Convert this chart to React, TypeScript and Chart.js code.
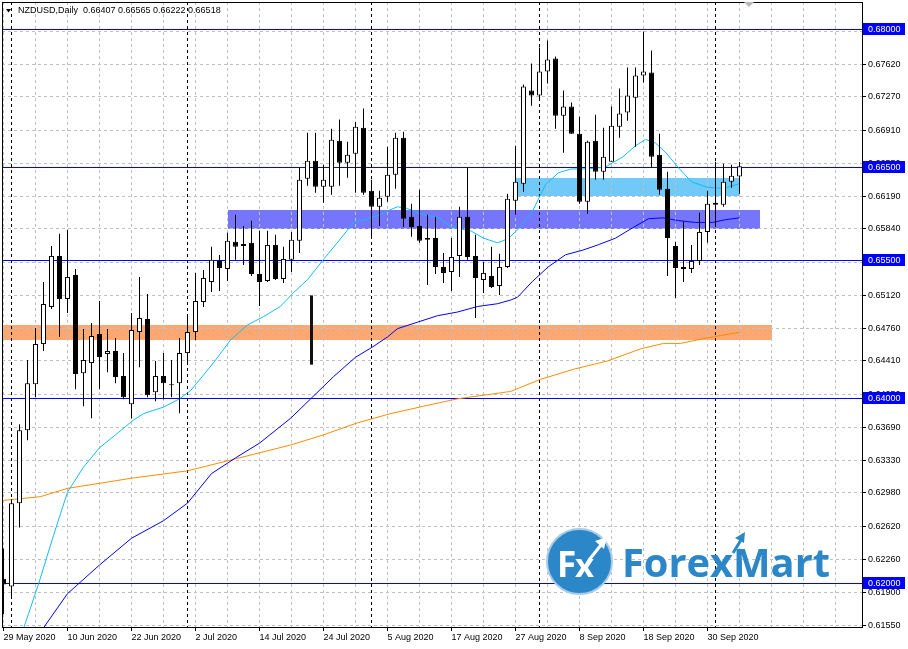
import React, { useEffect, useRef } from 'react';
import { Chart, registerables } from 'chart.js';

Chart.register(...registerables);

// ---------- data ----------
const symbolName = 'NZDUSD,Daily';

const openPrices = [
  0.6205, 0.61967, 0.62868, 0.6366, 0.64159, 0.64593, 0.64995, 0.65548, 0.65081, 0.65342,
  0.64278, 0.64387, 0.64702, 0.64485, 0.64517, 0.64246, 0.63942, 0.64723, 0.64864, 0.64072,
  0.64246, 0.64159, 0.6417, 0.64495, 0.64723, 0.65049, 0.65266, 0.65494, 0.65407, 0.657,
  0.65656, 0.65689, 0.65353, 0.65277, 0.65667, 0.65298, 0.65505, 0.65711, 0.66383, 0.66579,
  0.66297, 0.66297, 0.66796, 0.66557, 0.66655, 0.66937, 0.66253, 0.66079, 0.66188, 0.66427,
  0.66828, 0.65971, 0.65873, 0.65722, 0.65743, 0.65429, 0.65374, 0.65548, 0.65971, 0.65548,
  0.65288, 0.65331, 0.65222, 0.65429, 0.66145, 0.66329, 0.67338, 0.67284, 0.67544, 0.67685,
  0.67067, 0.67165, 0.66872, 0.66134, 0.66796, 0.66459, 0.66568, 0.66948, 0.671, 0.67262,
  0.67501, 0.67533, 0.66644, 0.66275, 0.65656, 0.65429, 0.65407, 0.65494, 0.65808, 0.66123,
  0.66101, 0.66351, 0.66407,
];
const highPrices = [
  0.6238, 0.62911, 0.63725, 0.6442, 0.64767, 0.65266, 0.65656, 0.65787, 0.6583, 0.65407,
  0.64756, 0.64821, 0.6506, 0.64756, 0.64658, 0.64495, 0.64929, 0.6532, 0.65136, 0.64409,
  0.64495, 0.6442, 0.64658, 0.64919, 0.65363, 0.65396, 0.65646, 0.65559, 0.65798, 0.65993,
  0.65873, 0.65928, 0.65819, 0.65819, 0.65776, 0.65646, 0.65808, 0.66503, 0.66882, 0.66882,
  0.66535, 0.66926, 0.67024, 0.66785, 0.67002, 0.67143, 0.66373, 0.66253, 0.66731, 0.66882,
  0.66893, 0.66112, 0.66264, 0.65993, 0.65971, 0.6558, 0.65743, 0.66079, 0.66503, 0.65776,
  0.65483, 0.65646, 0.6557, 0.66221, 0.66741, 0.67403, 0.67631, 0.67805, 0.67881, 0.67707,
  0.67338, 0.67208, 0.67056, 0.66796, 0.67078, 0.66937, 0.67165, 0.6736, 0.67588, 0.67588,
  0.67978, 0.67772, 0.66872, 0.66459, 0.657, 0.65917, 0.65667, 0.66014, 0.66253, 0.66568,
  0.66546, 0.66535, 0.66565,
];
const lowPrices = [
  0.6167, 0.61837, 0.62607, 0.63552, 0.64018, 0.64517, 0.64973, 0.64669, 0.64929, 0.64105,
  0.6392, 0.6379, 0.64105, 0.64289, 0.6417, 0.63996, 0.6379, 0.64343, 0.64018, 0.63975,
  0.63996, 0.64018, 0.63844, 0.64376, 0.64636, 0.64995, 0.65157, 0.65168, 0.65277, 0.65505,
  0.6545, 0.65331, 0.65005, 0.65266, 0.65288, 0.65255, 0.65374, 0.6558, 0.66307, 0.66231,
  0.66123, 0.6621, 0.66307, 0.66394, 0.66231, 0.6621, 0.65743, 0.65873, 0.66134, 0.66275,
  0.65862, 0.65754, 0.65689, 0.65233, 0.65353, 0.65255, 0.65168, 0.6532, 0.65505, 0.64875,
  0.65146, 0.65201, 0.65125, 0.65418, 0.65993, 0.66242, 0.67175, 0.6723, 0.67414, 0.66926,
  0.66665, 0.66872, 0.66112, 0.66004, 0.66373, 0.66373, 0.66568, 0.66828, 0.67013, 0.66731,
  0.67425, 0.66503, 0.6621, 0.65331, 0.65092, 0.65266, 0.65364, 0.6545, 0.65689, 0.65884,
  0.66079, 0.66286, 0.66222,
];
const closePrices = [
  0.6199, 0.62868, 0.6366, 0.6417, 0.64593, 0.65027, 0.65548, 0.65081, 0.6532, 0.64268,
  0.6442, 0.6468, 0.64452, 0.64517, 0.64235, 0.64018, 0.64745, 0.64875, 0.6404, 0.64246,
  0.6417, 0.64148, 0.64495, 0.64723, 0.6506, 0.65309, 0.65505, 0.65418, 0.65711, 0.65646,
  0.65678, 0.65353, 0.65266, 0.65667, 0.65298, 0.65515, 0.65722, 0.66373, 0.66579, 0.66297,
  0.66373, 0.66807, 0.66557, 0.66644, 0.66948, 0.66231, 0.66079, 0.66177, 0.66427, 0.66828,
  0.65949, 0.65862, 0.65711, 0.65743, 0.65429, 0.65364, 0.65537, 0.65971, 0.65537, 0.65309,
  0.65364, 0.65212, 0.65429, 0.66166, 0.66351, 0.67382, 0.67284, 0.67544, 0.67675, 0.67067,
  0.67165, 0.66872, 0.66134, 0.66785, 0.66459, 0.66622, 0.66958, 0.67089, 0.67284, 0.67501,
  0.67544, 0.66622, 0.66264, 0.65743, 0.65418, 0.65407, 0.65494, 0.65808, 0.66112, 0.66101,
  0.66351, 0.66416, 0.66518,
];

// date labels, one every 8 bars starting at bar 0
const dateLabels = [
  '29 May 2020', '10 Jun 2020', '22 Jun 2020', '2 Jul 2020', '14 Jul 2020', '24 Jul 2020',
  '5 Aug 2020', '17 Aug 2020', '27 Aug 2020', '8 Sep 2020', '18 Sep 2020', '30 Sep 2020',
];
const labelStep = 8;
const gridBars = [0, 4, 8, 12, 16, 20, 24, 28, 32, 36, 40, 44, 48, 52, 56, 60, 64, 68, 72, 76, 80, 84, 88, 92, 96, 100, 104];

const priceTicks = [
  0.6798, 0.6762, 0.6727, 0.6691, 0.6655, 0.6619, 0.6584, 0.6548, 0.6512, 0.6476,
  0.6441, 0.6405, 0.6369, 0.6333, 0.6298, 0.6262, 0.6226, 0.619, 0.6155,
];

const levelLines = [0.68, 0.665, 0.655, 0.64, 0.62];
const monthStarts = [1, 23, 46, 67, 89];

const zoneFrom = [-5, 28.1, 64.0];
const zoneTo = [96, 94.5, 92];
const zoneLow = [0.64636, 0.65841, 0.66199];
const zoneHigh = [0.64799, 0.66047, 0.66394];
const zoneColors = ['#FDA873', '#7676FC', '#70C9F7'];

// moving averages: [bar, price]
const maFast = [
  [2, 0.6138], [2.5, 0.6151], [4.4, 0.62], [6.25, 0.6252], [8, 0.6299], [10, 0.6326], [12, 0.6347],
  [14, 0.6361], [16.25, 0.6377], [17.5, 0.6384], [20, 0.6391], [22, 0.64], [23.4, 0.6409],
  [26.25, 0.6439], [28.4, 0.6464], [30.5, 0.648], [32.5, 0.6489], [34.6, 0.65], [36.25, 0.6515],
  [38, 0.6529], [40, 0.6551], [42, 0.6572], [43.75, 0.6591], [45.5, 0.6595], [47, 0.6599],
  [48.4, 0.6605], [49.25, 0.6608], [50.5, 0.6606], [52.5, 0.6599], [54.25, 0.6597], [56, 0.6586],
  [58.4, 0.6582], [60, 0.6574], [61.75, 0.6569], [63, 0.6573], [64.25, 0.6583], [66, 0.6601],
  [67.75, 0.6632], [69.4, 0.6645], [71, 0.6649], [73, 0.6649], [75.25, 0.6651], [77.4, 0.6662],
  [79, 0.6674], [80.25, 0.6681], [81.5, 0.6677], [82.75, 0.6667], [84.4, 0.665], [86, 0.6635],
  [88, 0.6629], [90, 0.6628], [92, 0.6633],
];
const maMid = [
  [4, 0.614], [5, 0.6152], [8, 0.6189], [12, 0.622], [16, 0.6249], [20, 0.6268], [23, 0.6287],
  [26, 0.6319], [29, 0.6336], [32, 0.6352], [35.9, 0.6379], [38.4, 0.64], [41.25, 0.6424],
  [44, 0.6445], [46.1, 0.6456], [48, 0.6467], [49.25, 0.6476], [51.75, 0.6483], [54.25, 0.649],
  [56.75, 0.6494], [59.25, 0.65], [61.75, 0.6503], [63.4, 0.6507], [64.25, 0.651], [66.1, 0.6527],
  [68.1, 0.6543], [70.25, 0.6556], [72.4, 0.6561], [74.4, 0.6567], [76.5, 0.6574], [78.6, 0.6585],
  [80.6, 0.6595], [82.4, 0.6596], [84.4, 0.6593], [86.5, 0.6591], [88.6, 0.6591], [90.25, 0.6594],
  [92, 0.6596],
];
const maSlow = [
  [-1, 0.6289], [0, 0.629], [4.6, 0.6294], [8, 0.6303], [16, 0.6314], [23, 0.6322], [29, 0.6335],
  [35.9, 0.635], [40, 0.6361], [44.25, 0.6374], [48.4, 0.6384], [52.5, 0.6392], [56.75, 0.64],
  [60.9, 0.6405], [63.4, 0.6408], [67.1, 0.6421], [71.25, 0.6432], [75.5, 0.6441], [79.6, 0.6454],
  [82.5, 0.646], [84.6, 0.646], [88, 0.6466], [92, 0.6472],
];

// a stray drawn vertical segment on the chart
const strayBar = [38.5];
const strayLow = [0.6437];
const strayHigh = [0.6512];

// view window
const X_MIN = -0.1875;
const X_MAX = 107.3125;
const Y_MIN = 0.615287;
const Y_MAX = 0.682978;

const FONT = '"Liberation Sans", Arial, sans-serif';

const mt4Plugin = {
  id: 'mt4Extras',
  beforeDraw(chart: any) {
    const { ctx, chartArea: a, scales } = chart;
    const x = scales.x;
    const y = scales.y;
    ctx.save();
    ctx.beginPath();
    ctx.rect(a.left, a.top, a.right - a.left, a.bottom - a.top);
    ctx.clip();
    for (let i = 0; i < zoneColors.length; i++) {
      const x1 = Math.round(x.getPixelForValue(zoneFrom[i]));
      const x2 = Math.round(x.getPixelForValue(zoneTo[i]));
      const y1 = Math.round(y.getPixelForValue(zoneHigh[i]));
      const y2 = Math.round(y.getPixelForValue(zoneLow[i]));
      ctx.fillStyle = zoneColors[i];
      ctx.fillRect(x1, y1, x2 - x1, y2 - y1);
    }
    ctx.restore();
  },
  beforeDatasetsDraw(chart: any) {
    const { ctx, chartArea: a, scales } = chart;
    const x = scales.x;
    const y = scales.y;
    ctx.save();
    ctx.beginPath();
    ctx.rect(a.left, a.top, a.right - a.left, a.bottom - a.top);
    ctx.clip();
    ctx.lineWidth = 1;
    ctx.strokeStyle = '#000000';
    ctx.setLineDash([3, 3]);
    monthStarts.forEach((m) => {
      const px = Math.floor(x.getPixelForValue(m)) + 0.5;
      ctx.beginPath();
      ctx.moveTo(px, a.top);
      ctx.lineTo(px, a.bottom);
      ctx.stroke();
    });
    ctx.setLineDash([]);
    ctx.strokeStyle = '#0000FF';
    levelLines.forEach((lv) => {
      const py = Math.floor(y.getPixelForValue(lv)) + 0.5;
      ctx.beginPath();
      ctx.moveTo(a.left, py);
      ctx.lineTo(a.right, py);
      ctx.stroke();
    });
    ctx.restore();
  },
  afterDraw(chart: any) {
    const { ctx, chartArea: a, scales } = chart;
    const y = scales.y;
    ctx.save();
    // frame
    ctx.strokeStyle = '#000000';
    ctx.lineWidth = 1;
    ctx.strokeRect(a.left + 0.5, a.top + 0.5, a.right - a.left, a.bottom - a.top);

    // level labels on price axis
    ctx.font = `9px ${FONT}`;
    ctx.textBaseline = 'middle';
    ctx.textAlign = 'left';
    levelLines.forEach((lv) => {
      const py = Math.floor(y.getPixelForValue(lv)) + 0.5;
      ctx.fillStyle = '#0000FF';
      ctx.fillRect(a.right + 1, Math.round(py - 6.5), 42, 12);
      ctx.fillStyle = '#FFFFFF';
      ctx.fillText(lv.toFixed(5), a.right + 6, py);
    });

    // header
    const last = openPrices.length - 1;
    const header = `${symbolName}  ${openPrices[last].toFixed(5)} ${highPrices[last].toFixed(5)} ${lowPrices[last].toFixed(5)} ${closePrices[last].toFixed(5)}`;
    ctx.fillStyle = '#000000';
    ctx.beginPath();
    ctx.moveTo(6, 9);
    ctx.lineTo(11, 9);
    ctx.lineTo(8.5, 12.5);
    ctx.closePath();
    ctx.fill();
    ctx.fillText(header, 18, 11);

    // chart shift marker
    ctx.fillStyle = '#B8B8B8';
    ctx.beginPath();
    ctx.moveTo(744, 2);
    ctx.lineTo(754, 2);
    ctx.lineTo(749, 7);
    ctx.closePath();
    ctx.fill();

    // watermark logo
    const blue = '#2C87C9';
    ctx.beginPath();
    ctx.arc(579.5, 561.5, 32.5, 0, Math.PI * 2);
    ctx.fillStyle = blue;
    ctx.fill();
    ctx.lineWidth = 2;
    ctx.strokeStyle = '#A8CBEA';
    ctx.stroke();
    ctx.fillStyle = '#FFFFFF';
    ctx.textBaseline = 'alphabetic';
    ctx.font = `bold 35px "Open Sans", sans-serif`;
    ctx.fillText('F', 557, 577);
    ctx.font = `bold 33px "Open Sans", sans-serif`;
    ctx.fillText('x', 575, 577);
    ctx.strokeStyle = '#FFFFFF';
    ctx.lineWidth = 3;
    ctx.beginPath();
    ctx.moveTo(589, 560);
    ctx.lineTo(601, 545);
    ctx.stroke();
    ctx.beginPath();
    ctx.moveTo(607, 537);
    ctx.lineTo(595, 541);
    ctx.lineTo(604, 549);
    ctx.closePath();
    ctx.fill();

    ctx.fillStyle = blue;
    ctx.font = `bold 40px "Open Sans", sans-serif`;
    ctx.fillText('ForexMart', 622, 577, 208);
    ctx.strokeStyle = blue;
    ctx.lineWidth = 3;
    ctx.beginPath();
    ctx.moveTo(733, 553);
    ctx.lineTo(741, 540);
    ctx.stroke();
    ctx.beginPath();
    ctx.moveTo(745, 532);
    ctx.lineTo(735, 538);
    ctx.lineTo(744, 543);
    ctx.closePath();
    ctx.fill();
    ctx.restore();
  },
};

export default function App() {
  const ref = useRef<HTMLCanvasElement>(null);

  useEffect(() => {
    document.body.style.margin = '0';
    const canvas = ref.current;
    if (!canvas) return;

    const bodies = openPrices.map((o, i) => ({ x: i, y: [o, closePrices[i]] }));
    const bodyColors = openPrices.map((o, i) => (closePrices[i] >= o ? '#FFFFFF' : '#000000'));
    const wicks = lowPrices.map((l, i) => ({ x: i, y: [l, highPrices[i]] }));
    const stray = strayBar.map((b, i) => ({ x: b, y: [strayLow[i], strayHigh[i]] }));
    const toPts = (arr: number[][]) => arr.map(([bx, p]) => ({ x: bx, y: p }));

    const chart = new Chart(canvas, {
      type: 'bar',
      data: {
        datasets: [
          {
            type: 'bar',
            data: bodies as any,
            backgroundColor: bodyColors,
            borderColor: '#000000',
            borderWidth: 1,
            borderSkipped: false,
            barThickness: 5,
            grouped: false,
            minBarLength: 1,
            inflateAmount: 0,
            order: 0,
          } as any,
          {
            type: 'bar',
            data: wicks as any,
            backgroundColor: '#000000',
            borderWidth: 0,
            barThickness: 1,
            grouped: false,
            inflateAmount: 0,
            order: 1,
          } as any,
          {
            type: 'bar',
            data: stray as any,
            backgroundColor: '#111111',
            borderWidth: 0,
            barThickness: 3,
            grouped: false,
            inflateAmount: 0,
            order: 2,
          } as any,
          {
            type: 'line',
            data: toPts(maFast) as any,
            borderColor: '#10BDF4',
            borderWidth: 1,
            pointRadius: 0,
            tension: 0,
            order: 3,
          } as any,
          {
            type: 'line',
            data: toPts(maMid) as any,
            borderColor: '#0000FF',
            borderWidth: 1,
            pointRadius: 0,
            tension: 0,
            order: 4,
          } as any,
          {
            type: 'line',
            data: toPts(maSlow) as any,
            borderColor: '#FF8C00',
            borderWidth: 1,
            pointRadius: 0,
            tension: 0,
            order: 5,
          } as any,
        ],
      },
      options: {
        responsive: false,
        animation: false,
        events: [],
        layout: { padding: { left: 2, top: 2, right: 0, bottom: 0 } },
        plugins: { legend: { display: false }, tooltip: { enabled: false } },
        scales: {
          x: {
            type: 'linear',
            min: X_MIN,
            max: X_MAX,
            offset: false,
            afterBuildTicks: (s: any) => {
              s.ticks = gridBars.map((v) => ({ value: v }));
            },
            afterFit: (s: any) => {
              s.height = 22;
              s.paddingLeft = 0;
              s.paddingRight = 0;
            },
            grid: {
              color: '#C0C0C0',
              offset: false,
              lineWidth: 1,
              tickLength: 4,
              tickColor: (c: any) =>
                c.tick && c.tick.value % labelStep === 0 && c.tick.value / labelStep < dateLabels.length
                  ? '#000000'
                  : 'rgba(0,0,0,0)',
            },
            border: { display: false, dash: [3, 3] },
            ticks: {
              autoSkip: false,
              maxRotation: 0,
              minRotation: 0,
              align: 'start',
              padding: 1,
              color: '#000000',
              font: { family: FONT, size: 9 },
              callback: (v: any) => {
                const n = Number(v);
                if (n % labelStep !== 0) return '';
                const k = n / labelStep;
                return k >= 0 && k < dateLabels.length ? dateLabels[k] : '';
              },
            },
          } as any,
          y: {
            type: 'linear',
            position: 'right',
            min: Y_MIN,
            max: Y_MAX,
            afterBuildTicks: (s: any) => {
              s.ticks = priceTicks.map((v) => ({ value: v }));
            },
            afterFit: (s: any) => {
              s.width = 46;
              s.paddingTop = 0;
              s.paddingBottom = 0;
            },
            grid: {
              color: '#C0C0C0',
              lineWidth: 1,
              tickLength: 4,
              tickColor: '#000000',
            },
            border: { display: false, dash: [3, 3] },
            ticks: {
              padding: 2,
              color: '#000000',
              font: { family: FONT, size: 9 },
              callback: (v: any) => Number(v).toFixed(5),
            },
          } as any,
        },
      },
      plugins: [mt4Plugin],
    } as any);

    return () => chart.destroy();
  }, []);

  return (
    <canvas
      ref={ref}
      width={908}
      height={649}
      style={{ display: 'block', width: '908px', height: '649px' }}
    />
  );
}
